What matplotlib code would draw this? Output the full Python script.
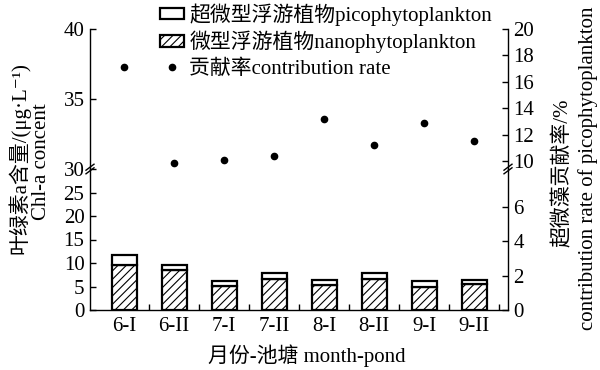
import matplotlib
matplotlib.use('Agg')
import matplotlib.pyplot as plt
import numpy as np
from matplotlib.lines import Line2D
from matplotlib.patches import Patch

plt.rcParams['font.family'] = ['Liberation Serif', 'Noto Sans CJK SC', 'DejaVu Sans']
plt.rcParams['hatch.linewidth'] = 0.8

categories = ['6-I', '6-II', '7-I', '7-II', '8-I', '8-II', '9-I', '9-II']
nano = [9.6, 8.6, 5.2, 6.7, 5.35, 6.7, 5.0, 5.5]
pico = [2.2, 1.0, 0.9, 1.1, 1.05, 1.1, 1.1, 0.9]
rate = [17.1, 9.85, 10.05, 10.4, 13.2, 11.2, 12.85, 11.55]

left_top_ticks = [30, 35, 40]
left_bot_ticks = [0, 5, 10, 15, 20, 25]
right_top_ticks = [10, 12, 14, 16, 18, 20]
right_bot_ticks = [0, 2, 4, 6]

W, H = 600, 370
fig = plt.figure(figsize=(6, 3.7), dpi=100)
L, R = 90 / W, 508 / W
ybrk = 1 - 169 / H
ytop = 1 - 29 / H
ybot = 1 - 310 / H
ax_top = fig.add_axes([L, ybrk, R - L, ytop - ybrk])
ax_bot = fig.add_axes([L, ybot, R - L, ybrk - ybot])
ax_top_r = ax_top.twinx()
ax_bot_r = ax_bot.twinx()

x = np.arange(len(categories))
ax_bot.bar(x, nano, width=0.5, facecolor='white', edgecolor='black',
           hatch='////', linewidth=1.6, zorder=2)
ax_bot.bar(x, pico, bottom=nano, width=0.5, facecolor='white',
           edgecolor='black', linewidth=1.6, zorder=2)
ax_top_r.plot(x, rate, 'o', color='black', markersize=4.5, linestyle='none')

for a in (ax_top, ax_bot, ax_top_r, ax_bot_r):
    a.set_xlim(-0.68, 7.68)
    a.patch.set_visible(False)
    for s in a.spines.values():
        s.set_linewidth(1.0)

ax_top.set_ylim(30, 40)
ax_top.set_yticks(left_top_ticks)
ax_bot.set_ylim(0, 30)
ax_bot.set_yticks(left_bot_ticks)
ax_top_r.set_ylim(9.4, 20)
ax_top_r.set_yticks(right_top_ticks)
ax_bot_r.set_ylim(0, 8.2)
ax_bot_r.set_yticks(right_bot_ticks)

for s in ('top', 'bottom', 'right'):
    ax_top.spines[s].set_visible(False)
for s in ('top', 'bottom', 'left'):
    ax_top_r.spines[s].set_visible(False)
for s in ('top', 'right'):
    ax_bot.spines[s].set_visible(False)
for s in ('top', 'bottom', 'left'):
    ax_bot_r.spines[s].set_visible(False)

ax_top.tick_params(axis='x', bottom=False, labelbottom=False)
ax_top_r.tick_params(axis='x', bottom=False, labelbottom=False)
for a in (ax_top, ax_bot, ax_top_r, ax_bot_r):
    a.tick_params(axis='y', direction='in', length=4, width=1, labelsize=15, pad=4)

ax_bot.set_xticks(x)
ax_bot.set_xticklabels(categories)
ax_bot.set_xticks(x + 0.5, minor=True)
ax_bot.tick_params(axis='x', which='major', length=0, labelsize=15, pad=5)
ax_bot.tick_params(axis='x', which='minor', direction='in', length=4, width=1)

# break marks
def brk(px, py):
    for k in (-1.8, 1.8):
        xs = [(px - 4) / W, (px + 4) / W]
        ys = [1 - (py + k + 3) / H, 1 - (py + k - 3) / H]
        fig.add_artist(Line2D(xs, ys, color='black', lw=1.0))
brk(90, 169)
brk(508, 169)

handles = [Patch(facecolor='white', edgecolor='black', lw=1.6),
           Patch(facecolor='white', edgecolor='black', hatch='////', lw=1.6),
           Line2D([], [], marker='o', ls='none', color='black', markersize=4.5)]
labels = ['超微型浮游植物picophytoplankton', '微型浮游植物nanophytoplankton',
          '贡献率contribution rate']
fig.legend(handles, labels, loc='upper left', bbox_to_anchor=(160 / W, 1 - 3 / H),
           frameon=False, fontsize=15, handlelength=1.15, handleheight=0.45,
           handletextpad=0.25, labelspacing=0.26, borderpad=0, borderaxespad=0)

fig.text(19 / W, 1 - 158 / H, '叶绿素a含量/(μg·L⁻¹)', rotation=90,
         ha='center', va='center', fontsize=15)
fig.text(42 / W, 1 - 162 / H, 'Chl-a concent', rotation=90,
         ha='center', va='center', fontsize=15)
fig.text(563 / W, 1 - 173 / H, '超微藻贡献率/%', rotation=90,
         ha='center', va='center', fontsize=15)
fig.text(588 / W, 1 - 168 / H, 'contribution rate of picophytoplankton', rotation=90,
         ha='center', va='center', fontsize=15)
fig.text(307 / W, 1 - 356 / H, '月份-池塘 month-pond', ha='center', va='center',
         fontsize=15)

fig.savefig('out.png', dpi=100)
